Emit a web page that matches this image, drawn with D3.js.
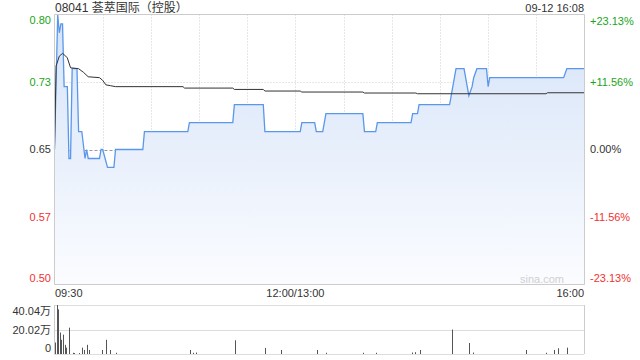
<!DOCTYPE html>
<html>
<head>
<meta charset="utf-8">
<script src="https://cdn.jsdelivr.net/npm/d3@7"></script>
<style>
  body { margin: 0; background: #fff; }
  text { font-family: "Liberation Sans", Arial, "Noto Sans CJK SC", sans-serif; }
</style>
</head>
<body>
<div id="chart"></div>
<script>
// stock info
var title = "08041 荟萃国际（控股）";
var stamp = "09-12 16:08";
var prevClose = 0.65;

// price vertices: minute index (0 = 09:30, 150 = 12:00/13:00, 330 = 16:00) and price
var priceT = [0, 2, 3, 4, 5, 6, 8, 9, 10, 11, 14, 15, 17, 19, 20, 21, 28, 29, 30, 33, 37, 38, 55, 56,
  83, 84, 111, 112, 130, 131, 153, 154, 162, 163, 167, 169, 192, 193, 200, 201, 222, 223, 226, 227,
  246, 247, 248, 250, 255, 257, 258, 260, 261, 263, 269, 270, 271, 317, 319, 330];
var priceV = [0.65, 0.80, 0.78, 0.79, 0.79, 0.72, 0.72, 0.64, 0.64, 0.74, 0.74, 0.67, 0.67, 0.64, 0.65, 0.64, 0.64, 0.65, 0.65, 0.63, 0.63, 0.65, 0.65, 0.67,
  0.67, 0.68, 0.68, 0.70, 0.70, 0.67, 0.67, 0.68, 0.68, 0.67, 0.67, 0.69, 0.69, 0.67, 0.67, 0.68, 0.68, 0.69, 0.69, 0.70,
  0.70, 0.71, 0.72, 0.74, 0.74, 0.72, 0.71, 0.72, 0.73, 0.74, 0.74, 0.72, 0.73, 0.73, 0.74, 0.74];

// average price vertices
var avgT = [0, 1, 3, 5, 7, 8, 10, 15, 18, 21, 28, 30, 32, 35, 38, 80, 81, 111, 112, 130, 131, 153, 154, 192, 193, 225, 226, 306, 307, 330];
var avgV = [0.65, 0.743, 0.754, 0.757, 0.754, 0.752, 0.741, 0.740, 0.736, 0.731, 0.730, 0.727, 0.722, 0.721, 0.720, 0.720, 0.7184, 0.7184, 0.7169, 0.7169, 0.7151, 0.7151, 0.714, 0.714, 0.7129, 0.7129, 0.7121, 0.7121, 0.7132, 0.7132];

// volume bars (万股)
var volT = [0, 1, 2, 3, 4, 5, 6, 7, 9, 11, 12, 15, 17, 18, 20, 21, 29, 32, 34, 38, 84, 86, 88, 112, 131, 141, 163, 169, 192, 200, 222, 224, 227, 247, 258, 260, 293, 306, 311, 313, 319];
var volV = [9.4, 40.04, 36.5, 17.5, 11.6, 15.8, 7.5, 5.2, 21.5, 1, 0.8, 0.8, 5.2, 3.3, 7.5, 3.3, 3.3, 11.6, 3.3, 1, 3.3, 1, 1.2, 11.2, 5, 3.3, 3.3, 1, 1, 1, 1.2, 1.5, 3.3, 20, 9, 1.2, 3.3, 1, 3.3, 4.7, 5.2];

// axis labels
var leftLabels = ["0.80", "0.73", "0.65", "0.57", "0.50"];
var rightLabels = ["+23.13%", "+11.56%", "0.00%", "-11.56%", "-23.13%"];
var volLabels = ["40.04万", "20.02万", "0"];
var timeLabels = ["09:30", "12:00/13:00", "16:00"];

var green = "#1aa51a", red = "#f03232", dark = "#333";
var W = 640, H = 360;
var L = 54.5, R = 584.5, T = 14.5, B = 284.5;
var VT = 305, VB = 354;

var svg = d3.select("#chart").append("svg")
  .attr("width", W).attr("height", H);

var x = d3.scaleLinear().domain([0, 330]).range([L, R]);
var y = d3.scaleLinear().domain([prevClose * (1 - 0.2313), prevClose * (1 + 0.2313)]).range([B, T]);
var yv = d3.scaleLinear().domain([0, 40.04]).range([VB, VT]);

// gradient
var grad = svg.append("defs").append("linearGradient")
  .attr("id", "fillGrad").attr("gradientUnits", "userSpaceOnUse")
  .attr("x1", 0).attr("y1", T).attr("x2", 0).attr("y2", B);
grad.append("stop").attr("offset", 0).attr("stop-color", "#d5e3f8");
grad.append("stop").attr("offset", 1).attr("stop-color", "#fbfcff");

// vertical grid
var vgrid = d3.range(30, 330, 30);
svg.append("g").selectAll("line").data(vgrid).enter().append("line")
  .attr("x1", function(d){ return Math.round(x(d)) + 0.5; })
  .attr("x2", function(d){ return Math.round(x(d)) + 0.5; })
  .attr("y1", T).attr("y2", B)
  .attr("stroke", "#cfcfcf").attr("stroke-dasharray", "1,2");

// horizontal grid
var hLevels = [0.1156, 0, -0.1156];
svg.append("g").selectAll("line").data(hLevels).enter().append("line")
  .attr("x1", L).attr("x2", R)
  .attr("y1", function(d){ return Math.round(y(prevClose * (1 + d))) + 0.5; })
  .attr("y2", function(d){ return Math.round(y(prevClose * (1 + d))) + 0.5; })
  .attr("stroke", function(d){ return d == 0 ? "#999" : "#cfcfcf"; })
  .attr("stroke-dasharray", function(d){ return d == 0 ? "3,2" : "1,2"; });

var pts = priceT.map(function(t, i){ return [t, priceV[i]]; });
var avgPts = avgT.map(function(t, i){ return [t, avgV[i]]; });

// area
svg.append("path")
  .datum(pts)
  .attr("d", d3.area().x(function(d){ return x(d[0]); }).y0(B).y1(function(d){ return y(d[1]); }))
  .attr("fill", "url(#fillGrad)");

// watermark
svg.append("text").attr("x", 564).attr("y", 283)
  .attr("text-anchor", "end").attr("font-size", 11).attr("fill", "#d0d0d0")
  .text("sina.com");

// price line
svg.append("path")
  .datum(pts)
  .attr("d", d3.line().x(function(d){ return x(d[0]); }).y(function(d){ return y(d[1]); }))
  .attr("fill", "none").attr("stroke", "#5a97ea").attr("stroke-width", 1.3);

// average line
svg.append("path")
  .datum(avgPts)
  .attr("d", d3.line().x(function(d){ return x(d[0]); }).y(function(d){ return y(d[1]); }))
  .attr("fill", "none").attr("stroke", "#333").attr("stroke-width", 1);

// frame
svg.append("path")
  .attr("d", "M" + L + "," + T + "H" + R + "V" + B + "H" + L + "Z")
  .attr("fill", "none").attr("stroke", "#cccccc");

// left labels
var leftY = [24, 85.5, 153, 220.5, 282];
var leftCol = [green, green, dark, red, red];
svg.append("g").selectAll("text").data(leftLabels).enter().append("text")
  .attr("x", 51).attr("y", function(d, i){ return leftY[i]; })
  .attr("text-anchor", "end").attr("font-size", 11)
  .attr("fill", function(d, i){ return leftCol[i]; })
  .text(function(d){ return d; });

// right labels
svg.append("g").selectAll("text").data(rightLabels).enter().append("text")
  .attr("x", 590).attr("y", function(d, i){ return leftY[i] + (i == 0 ? 0.5 : 0); })
  .attr("font-size", 11)
  .attr("fill", function(d, i){ return leftCol[i]; })
  .text(function(d){ return d; });

// title & time stamp
svg.append("text").attr("x", 55).attr("y", 12).attr("font-size", 12).attr("fill", dark).text(title);
svg.append("text").attr("x", 584).attr("y", 12).attr("text-anchor", "end").attr("font-size", 11).attr("fill", dark).text(stamp);

// time labels
var timeX = [55, x(150), 584], timeAnchor = ["start", "middle", "end"];
svg.append("g").selectAll("text").data(timeLabels).enter().append("text")
  .attr("x", function(d, i){ return timeX[i]; }).attr("y", 297)
  .attr("text-anchor", function(d, i){ return timeAnchor[i]; })
  .attr("font-size", 11).attr("fill", dark)
  .text(function(d){ return d; });

// volume grid
var vLevels = [40.04, 20.02, 0];
svg.append("g").selectAll("line").data(vLevels).enter().append("line")
  .attr("x1", L).attr("x2", R)
  .attr("y1", function(d){ return Math.round(yv(d)) + 0.5; })
  .attr("y2", function(d){ return Math.round(yv(d)) + 0.5; })
  .attr("stroke", "#bbbbbb").attr("stroke-dasharray", "1,1");
svg.append("line").attr("x1", L).attr("x2", L).attr("y1", VT).attr("y2", VB).attr("stroke", "#cccccc");
svg.append("line").attr("x1", R).attr("x2", R).attr("y1", VT).attr("y2", VB).attr("stroke", "#cccccc");

// volume bars
svg.append("g").selectAll("rect").data(volT).enter().append("rect")
  .attr("x", function(d){ return Math.round(x(d) + 0.5); })
  .attr("width", 1)
  .attr("y", function(d, i){ return yv(volV[i]); })
  .attr("height", function(d, i){ return VB - yv(volV[i]); })
  .attr("fill", "#555");

// volume labels
var volY = [314.5, 334, 352];
svg.append("g").selectAll("text").data(volLabels).enter().append("text")
  .attr("x", 51).attr("y", function(d, i){ return volY[i]; })
  .attr("text-anchor", "end").attr("font-size", 11).attr("fill", dark)
  .text(function(d){ return d; });
</script>
</body>
</html>
